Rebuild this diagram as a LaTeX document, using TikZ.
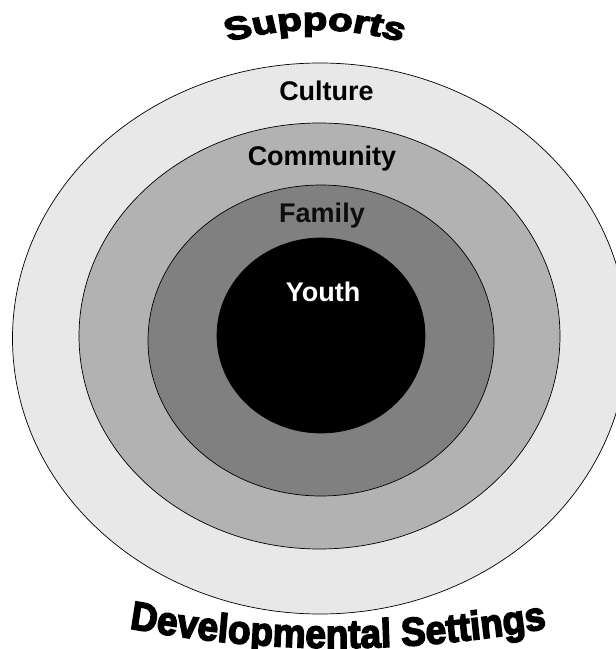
\documentclass[tikz,border=0pt]{standalone}
\usepackage{fontspec}
\setmainfont{Liberation Sans}
\newfontfamily\heavyfont{Liberation Sans Bold}[FakeBold=4]
\usetikzlibrary{decorations.text}
\definecolor{cultgray}{gray}{0.91}
\definecolor{commgray}{gray}{0.70}
\definecolor{famgray}{gray}{0.50}
\begin{document}
\begin{tikzpicture}[x=1pt,y=1pt,
  ring/.style={draw=black, line width=0.7pt},
  lbl/.style={font=\bfseries\fontsize{27}{27}\selectfont, anchor=base, inner sep=0pt}]
\useasboundingbox (0,0) rectangle (616,649);
\clip (0,0) rectangle (616,649);
\fill[white] (0,0) rectangle (616,649);
% rings
\draw[ring, fill=cultgray] (320,310.5) ellipse [x radius=307.5, y radius=275.5];
\draw[ring, fill=commgray] (319.5,313) ellipse [x radius=240.5, y radius=213];
\draw[ring, fill=famgray] (321,308.5) ellipse [x radius=173, y radius=155.5];
\draw[ring, fill=black] (321,313.5) ellipse [x radius=104, y radius=97.5];
% labels
\node[lbl] (culture) at (326.5,548) {Culture};
\node[lbl] (community) at (322,483) {Community};
\node[lbl, text=black!95] (family) at (322,426.5) {Family};
\node[lbl, text=white] (youth) at (323,347) {Youth};
% curved titles
\begin{scope}[transform canvas={yscale=0.8}]
\path[decorate, decoration={text along path, text align=center,
  text={|\heavyfont\fontsize{40}{40}\selectfont|Supports}}]
  (154.5,720) arc[start angle=120, end angle=60, x radius=321, y radius=401.25];
\end{scope}
\begin{scope}[transform canvas={yscale=1.08}]
\path[decorate, decoration={text along path, text align=center,
  text={|\heavyfont\fontsize{37}{37}\selectfont|Developmental Settings}}]
  (49.4,36.1) arc[start angle=255, end angle=285, x radius=1115, y radius=1032.4];
\end{scope}
\end{tikzpicture}
\end{document}
